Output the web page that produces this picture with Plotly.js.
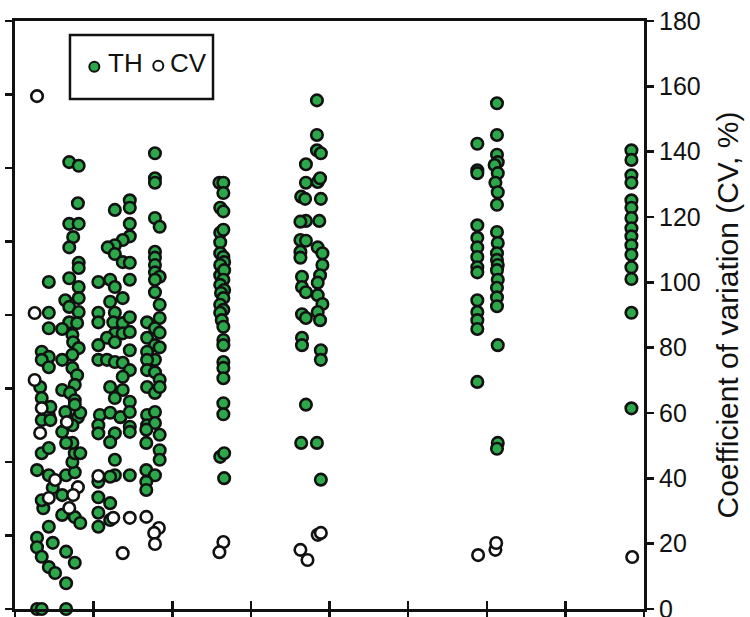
<!DOCTYPE html>
<html>
<head>
<meta charset="utf-8">
<script src="https://cdn.plot.ly/plotly-3.0.1.min.js"></script>
<style>
  html, body { margin: 0; padding: 0; background: #fff; }
  #chart { width: 750px; height: 617px; }
</style>
</head>
<body>
<div id="chart"></div>
<script>
// TH values (left axis) by sampling group: position along x, value
const thX1 = [0.69,0.81,0.80,0.69,0.81,0.74,0.69,0.81,0.81,0.69,0.43,0.43,0.43,0.34,0.43,0.34,0.43,0.32,0.34,0.43,0.34,0.81,0.64,0.81,0.69,0.81,0.69,0.79,0.60,0.73,0.74,0.81,0.73,0.60,0.73,0.79,0.76,0.60,0.70,0.76,0.64,0.80,0.73,0.28,0.28,0.34,0.43,0.51,0.65,0.65,0.76,0.48,0.43,0.28,0.34,0.43,0.36,0.34,0.48,0.43,0.60,0.76,0.83,0.60,0.65,0.76,0.73,0.76,0.83,0.73,0.65,0.60,0.83,0.76,0.45,0.45,0.28,0.34,0.65];
const thY1 = [608,603,552,524,524,506,492,471,464,450,445,403,382,350,343,339,329,302,287,264,257,438,420,423,411,404,390,389,381,373,363,355,346,339,328,318,305,298,294,284,268,261,250,97,84,71,57,49,35,78,63,90,112,189,212,219,137,148,165,182,128,125,117,155,182,186,200,212,212,226,226,241,267,278,275,257,0,0,0];

const thX2 = [1.78,1.78,1.78,1.78,1.84,1.78,1.78,1.78,1.78,1.84,
  1.46,1.46,1.46,1.46,1.37,1.27,1.18,1.27,1.37,1.46,1.27,
  1.06,1.21,1.27,1.46,1.37,1.21,1.06,1.06,1.27,1.25,1.37,1.46,1.27,1.37,1.46,1.17,1.06,1.27,1.46,1.06,1.17,1.27,1.37,1.46,1.37,1.21,1.37,1.27,1.46,1.08,1.21,1.34,1.46,
  1.78,1.78,1.84,1.68,1.84,1.78,1.84,1.68,1.78,1.68,1.84,1.78,1.68,1.68,1.78,1.84,1.68,1.78,1.84,1.68,1.78,1.68,1.78,
  1.06,1.06,1.27,1.21,1.46,1.46,1.27,1.27,1.46,1.21,1.06,1.06,1.21,1.06,1.21,1.06,
  1.67,1.84,1.67,1.84,1.84,1.67,1.78,1.67,1.67];
const thY2 = [620,586,580,532,520,486,478,468,458,452,
  556,546,524,507,502,495,492,483,472,471,543,
  445,448,438,448,423,418,403,390,403,390,389,397,375,375,377,369,359,363,352,339,339,336,335,325,316,302,298,287,282,264,267,261,248,
  448,431,414,390,396,382,376,369,359,350,356,339,339,325,322,312,302,294,302,264,268,250,253,
  250,239,239,227,241,268,203,182,182,180,173,152,144,131,121,112,
  244,237,226,216,203,189,182,173,162];

const thX3 = [2.60,2.65,2.65,2.61,2.65,2.61,2.65,2.61,2.61,2.65,2.66,2.61,2.61,2.66,2.65,2.61,2.66,2.62,2.65,2.61,2.65,2.61,2.63,2.65,2.65,2.65,2.65,2.65,2.65,2.65,2.65,2.61,2.66,2.66];
const thY3 = [580,580,566,546,541,512,516,499,484,479,472,468,454,461,448,441,434,430,423,414,407,403,393,384,366,359,336,328,314,280,265,207,212,178];

const thX4 = [3.84,3.84,3.84,3.89,3.70,3.70,3.85,3.88,3.64,3.69,3.89,3.70,3.87,3.63,3.63,3.70,3.63,3.63,3.85,3.91,3.91,3.88,3.65,3.65,3.70,3.85,3.85,3.91,3.65,3.70,3.85,3.88,3.65,3.65,3.89,3.89,3.70,3.64,3.84,3.89];
const thY4 = [692,645,624,620,605,580,581,586,561,558,558,528,528,527,502,501,486,478,492,484,468,454,452,438,431,444,427,415,401,396,404,393,369,359,352,339,278,226,226,176];

const thX5 = [5.88,5.88,5.88,5.88,5.88,5.88,5.88,5.88,5.88,5.88,5.88,5.88,5.88,5.88,
  6.13,6.13,6.13,6.14,6.10,6.14,6.11,6.14,6.13,6.13,6.14,6.13,6.13,6.14,6.13,6.14,6.13,6.13,6.13,6.14,6.14,6.13];
const thY5 = [633,597,593,522,505,492,479,465,458,420,404,393,381,309,
  688,645,618,608,604,593,580,567,550,513,498,484,475,468,461,448,437,424,412,359,226,218];

const thX6 = [7.84,7.84,7.84,7.84,7.84,7.84,7.84,7.84,7.84,7.84,7.84,7.84,7.84,7.84,7.84];
const thY6 = [624,611,590,580,556,546,532,518,507,495,482,465,449,403,273];

// CV values (right axis, %)
const cvX = [0.28,0.25,0.25,0.34,0.32,0.51,0.43,0.66,0.80,0.74,0.69,
  1.06,1.25,1.46,1.67,1.37,1.83,1.77,1.78,
  2.65,2.60,
  3.85,3.89,3.63,3.72,
  5.89,6.11,6.12,
  7.85];
const cvY = [157,90.6,70.1,61.5,53.9,39.5,34.0,57.2,37.3,34.9,30.9,
  40.7,27.9,27.9,28.2,17.1,24.8,23.3,19.9,
  20.5,17.4,
  22.7,23.3,18.1,15.0,
  16.5,18.1,20.2,
  15.9];

const cvTicks = [0,20,40,60,80,100,120,140,160,180];
const legendNames = ['TH', 'CV'];

const GREEN = '#2ca84a';
const INK = '#111111';
const FONT = 'Liberation Sans, Arial, Helvetica, sans-serif';

const thX = [].concat(thX1, thX2, thX3, thX4, thX5, thX6);
const thY = [].concat(thY1, thY2, thY3, thY4, thY5, thY6);

const traces = [
  {
    type: 'scatter', mode: 'markers', name: legendNames[0],
    x: thX, y: thY, xaxis: 'x', yaxis: 'y',
    cliponaxis: false, showlegend: false, hoverinfo: 'x+y',
    marker: { size: 11.5, color: GREEN, line: { color: INK, width: 2.6 } }
  },
  {
    type: 'scatter', mode: 'markers', name: legendNames[1],
    x: cvX, y: cvY, xaxis: 'x2', yaxis: 'y2',
    cliponaxis: false, showlegend: false, hoverinfo: 'x+y',
    marker: { size: 11.5, color: '#ffffff', line: { color: INK, width: 2.6 } }
  }
];

const axisCommon = {
  showgrid: false, zeroline: false, linecolor: INK, tickcolor: INK
};

const layout = {
  width: 750, height: 617,
  margin: { l: 15, r: 106, t: 21, b: 8, pad: 0 },
  paper_bgcolor: '#ffffff', plot_bgcolor: '#ffffff',
  showlegend: false,
  font: { family: FONT, color: INK },
  xaxis: Object.assign({}, axisCommon, {
    range: [0, 8], tick0: 0, dtick: 1, ticks: 'outside', ticklen: 10, tickwidth: 2.5,
    showline: true, linewidth: 3, mirror: true, showticklabels: false
  }),
  xaxis2: Object.assign({}, axisCommon, {
    overlaying: 'x', anchor: 'y2', range: [0, 8], tick0: 0, dtick: 1,
    ticks: 'inside', ticklen: 8, tickwidth: 2.5, showline: false, showticklabels: false
  }),
  yaxis: Object.assign({}, axisCommon, {
    range: [0, 800], tick0: 0, dtick: 100, ticks: 'outside', ticklen: 7, tickwidth: 2.5,
    showline: true, linewidth: 3, showticklabels: false
  }),
  yaxis2: Object.assign({}, axisCommon, {
    overlaying: 'y', side: 'right', anchor: 'x2', range: [0, 180],
    tickmode: 'array', tickvals: cvTicks, ticktext: cvTicks.map(String),
    ticks: 'outside', ticklen: 7, tickwidth: 2.5, showline: true, linewidth: 3,
    tickfont: { family: FONT, size: 25, color: INK },
    ticklabeloverflow: 'allow',
    automargin: false,
    title: { text: 'Coefficient of variation (CV, %)', font: { family: FONT, size: 30, color: INK }, standoff: 18 }
  }),
  shapes: [
    { type: 'rect', xref: 'paper', yref: 'paper', x0: 0.0874, x1: 0.3148, y0: 0.8673, y1: 0.9762,
      line: { color: INK, width: 2.5 }, fillcolor: 'rgba(0,0,0,0)' },
    { type: 'circle', xref: 'paper', yref: 'paper', xsizemode: 'pixel', ysizemode: 'pixel',
      xanchor: 0.1261, yanchor: 0.9223, x0: -5, x1: 5, y0: -5, y1: 5,
      fillcolor: GREEN, line: { color: INK, width: 2 } },
    { type: 'circle', xref: 'paper', yref: 'paper', xsizemode: 'pixel', ysizemode: 'pixel',
      xanchor: 0.2278, yanchor: 0.9240, x0: -5, x1: 5, y0: -5, y1: 5,
      fillcolor: '#ffffff', line: { color: INK, width: 2 } }
  ],
  annotations: [
    { xref: 'paper', yref: 'paper', x: 0.1447, y: 0.9286, xanchor: 'left', yanchor: 'middle',
      text: legendNames[0], showarrow: false, font: { family: FONT, size: 26, color: INK } },
    { xref: 'paper', yref: 'paper', x: 0.2432, y: 0.9286, xanchor: 'left', yanchor: 'middle',
      text: legendNames[1], showarrow: false, font: { family: FONT, size: 26, color: INK } }
  ]
};

Plotly.newPlot('chart', traces, layout, { staticPlot: true, displayModeBar: false });
</script>
</body>
</html>
